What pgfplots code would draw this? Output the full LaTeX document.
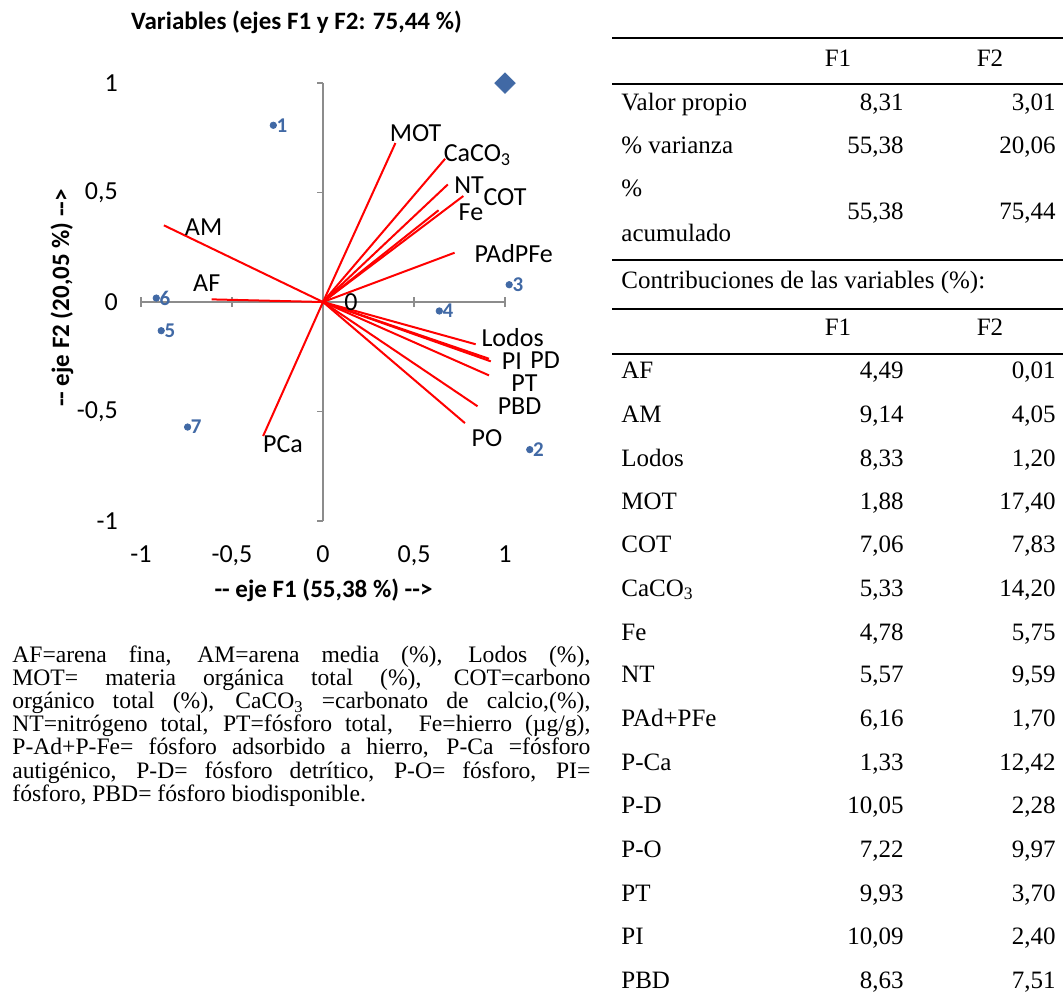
\documentclass[border=0pt]{standalone}
\usepackage{fontspec}
\setmainfont{Liberation Serif}
\newfontfamily\carlito{Carlito}
\usepackage{pgfplots}
\pgfplotsset{compat=1.18}
\definecolor{ptblue}{RGB}{65,105,165}
\definecolor{axgray}{RGB}{140,140,140}
\newcommand\cbf{\carlito\fontsize{13}{15}\selectfont}
\newcommand\tf{\fontsize{12.5}{14}\selectfont}
\newcommand\trow[4]{%
  \node[anchor=base west,inner sep=0,font=\tf] at (621,#1) {#2};
  \node[anchor=base east,inner sep=0,font=\tf] at (904,#1) {#3};
  \node[anchor=base east,inner sep=0,font=\tf] at (1056,#1) {#4};}
\begin{document}
\begin{tikzpicture}
\path[use as bounding box] (0,0) rectangle (531.5pt,-500.5pt);
\begin{axis}[
  scale only axis, width=218.4pt, height=240.9pt,
  anchor=south west, at={(61.4pt,-271.45pt)},
  xmin=-1.1, xmax=1.3, ymin=-1.1, ymax=1.1,
  clip=false,
  axis line style={draw=none},
  major tick length=0pt,
  xtick={-1,-0.5,0,0.5,1}, xticklabels={-1,{-0,5},0,{0,5},1},
  ytick={-1,-0.5,0,0.5,1}, yticklabels={-1,{-0,5},0,{0,5},1},
  ticklabel style={font=\cbf},
  xticklabel style={yshift=2pt},
  yticklabel style={xshift=1pt},
]
% axis lines
\draw[axgray, line width=0.9pt] (axis cs:-1,0) -- (axis cs:1,0);
\draw[axgray, line width=0.9pt] (axis cs:0,-1) -- (axis cs:0,1);
\pgfplotsinvokeforeach{-1,-0.5,0.5,1}{
  \draw[axgray, line width=0.9pt] ([yshift=-2.5pt]axis cs:#1,0) -- ([yshift=2.5pt]axis cs:#1,0);
  \draw[axgray, line width=0.9pt] (axis cs:0,#1) -- ([xshift=-3pt]axis cs:0,#1);
}
% variable vectors
\addplot[red, line width=1pt, quiver={u=\thisrow{u}, v=\thisrow{v}}] table {
x y u v
0 0 -0.612 0.012
0 0 -0.874 0.350
0 0 0.839 -0.193
0 0 0.398 0.726
0 0 0.771 0.484
0 0 0.671 0.654
0 0 0.635 0.419
0 0 0.686 0.537
0 0 0.723 0.225
0 0 -0.329 -0.612
0 0 0.912 -0.259
0 0 0.780 -0.553
0 0 0.912 -0.335
0 0 0.922 -0.271
0 0 0.849 -0.476
};
% variable labels
\addplot[draw=none, mark=none, nodes near coords, point meta=explicit symbolic,
  nodes near coords style={anchor=center, font=\cbf, text=black}] coordinates {
(-0.639,0.084) [AF]
(-0.656,0.342) [AM]
(1.042,-0.163) [Lodos]
(0.509,0.773) [MOT]
(1.0,0.479) [COT]
(0.849,0.672) [{CaCO\textsubscript{3}}]
(0.813,0.411) [Fe]
(0.803,0.533) [NT]
(1.048,0.221) [PAdPFe]
(-0.220,-0.650) [PCa]
(1.220,-0.266) [PD]
(0.901,-0.621) [PO]
(1.107,-0.370) [PT]
(1.038,-0.271) [PI]
(1.080,-0.476) [PBD]
(0.153,0.0) [0]
};
% observations
\addplot[ptblue, only marks, mark=*, mark size=1.6pt, nodes near coords, point meta=explicit symbolic,
  nodes near coords style={anchor=west, inner sep=1.5pt, font=\carlito\bfseries\fontsize{10.5}{12}\selectfont, text=ptblue}] coordinates {
(-0.273,0.807) [1]
(1.136,-0.674) [2]
(1.023,0.079) [3]
(0.639,-0.041) [4]
(-0.889,-0.131) [5]
(-0.916,0.018) [6]
(-0.744,-0.571) [7]
};
\addplot[ptblue, only marks, mark=square*, mark options={rotate=45}, mark size=3.6pt] coordinates {(1,1)};
\end{axis}
\begin{scope}[x=0.5pt,y=-0.5pt]
\node[font=\carlito\bfseries\fontsize{12.5}{15}\selectfont] at (296.5,22) {Variables (ejes F1 y F2: 75,44 \%)};
\node[font=\carlito\bfseries\fontsize{12.5}{15}\selectfont] at (323.5,590) {-{}- eje F1 (55,38 \%) -{}->};
\node[rotate=90, font=\carlito\bfseries\fontsize{12.5}{15}\selectfont] at (62,298) {-{}- eje F2 (20,05 \%) -{}->};
% caption
\node[anchor=north west, inner sep=0, text width=289pt, align=justify] at (12,645) {%
\fontsize{11.8}{11.6}\selectfont\lineskiplimit=-\maxdimen\hyphenpenalty=10000\noindent
AF=arena fina, AM=arena media (\%), Lodos (\%),\linebreak
MOT= materia orgánica total (\%), COT=carbono\linebreak
orgánico total (\%), CaCO\textsubscript{3} =carbonato de calcio,(\%),\linebreak
NT=nitrógeno total, PT=fósforo total,\ \ Fe=hierro (µg/g),\linebreak
P-Ad+P-Fe= fósforo adsorbido a hierro, P-Ca =fósforo\linebreak
autigénico, P-D= fósforo detrítico, P-O= fósforo, PI=\linebreak
fósforo, PBD= fósforo biodisponible.\par};
% table rules
\foreach \yy in {38,84,260,309,354} {\draw[line width=1.1pt] (612,\yy) -- (1063,\yy);}
\node[font=\tf] at (838,58) {F1};
\node[font=\tf] at (990,58) {F2};
\trow{110}{Valor propio}{8,31}{3,01}
\trow{153}{\% varianza}{55,38}{20,06}
\node[anchor=base west,inner sep=0,font=\tf] at (621,196) {\%};
\node[anchor=base west,inner sep=0,font=\tf] at (621,241) {acumulado};
\trow{219}{}{55,38}{75,44}
\node[anchor=base west,inner sep=0,font=\tf] at (621,288) {Contribuciones de las variables (\%):};
\node[font=\tf] at (838,327) {F1};
\node[font=\tf] at (990,327) {F2};
\trow{378}{AF}{4,49}{0,01}
\trow{422}{AM}{9,14}{4,05}
\trow{466}{Lodos}{8,33}{1,20}
\trow{509}{MOT}{1,88}{17,40}
\trow{552}{COT}{7,06}{7,83}
\trow{596}{CaCO\textsubscript{3}}{5,33}{14,20}
\trow{640}{Fe}{4,78}{5,75}
\trow{682}{NT}{5,57}{9,59}
\trow{726}{PAd+PFe}{6,16}{1,70}
\trow{770}{P-Ca}{1,33}{12,42}
\trow{813}{P-D}{10,05}{2,28}
\trow{857}{P-O}{7,22}{9,97}
\trow{901}{PT}{9,93}{3,70}
\trow{944}{PI}{10,09}{2,40}
\trow{988}{PBD}{8,63}{7,51}
\end{scope}
\end{tikzpicture}
\end{document}
